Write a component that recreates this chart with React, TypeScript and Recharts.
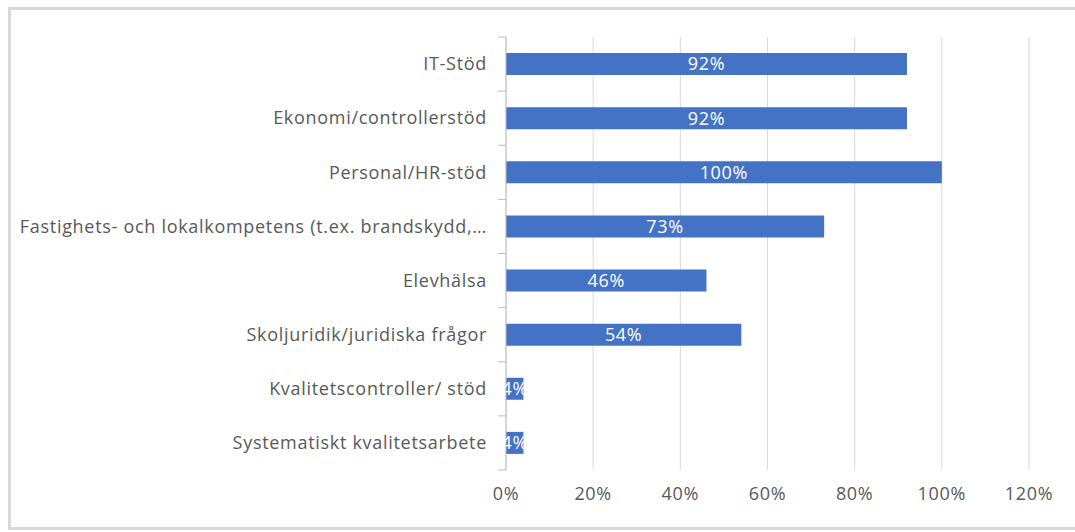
import { Bar, BarChart, CartesianGrid, LabelList, XAxis, YAxis } from 'recharts'

const CATEGORIES = [
  'IT-Stöd',
  'Ekonomi/controllerstöd',
  'Personal/HR-stöd',
  'Fastighets- och lokalkompetens (t.ex. brandskydd,…',
  'Elevhälsa',
  'Skoljuridik/juridiska frågor',
  'Kvalitetscontroller/ stöd',
  'Systematiskt kvalitetsarbete',
]
const VALUES = [92, 92, 100, 73, 46, 54, 4, 4]
const X_TICKS = [0, 20, 40, 60, 80, 100, 120]

const data = CATEGORIES.map((name, i) => ({ name, value: VALUES[i] }))

const WIDTH = 1064
const HEIGHT = 517
const MARGIN = { top: 27, right: 46, bottom: 27, left: 0 }
const Y_AXIS_WIDTH = 495
const X_AXIS_HEIGHT = 30
const LABEL_GAP = 19
const PLOT_H = HEIGHT - MARGIN.top - MARGIN.bottom - X_AXIS_HEIGHT
const BAND = PLOT_H / CATEGORIES.length

const FONT = '"Open Sans", sans-serif'
const FONT_SIZE = 18
const SPACING = 0.7
const TEXT = '#595959'

function CategoryTick(props: any) {
  const { x, y, payload, index } = props
  const ax = x + LABEL_GAP
  return (
    <g>
      <text
        x={x}
        y={y}
        dy="0.35em"
        textAnchor="end"
        fill={TEXT}
        fontSize={FONT_SIZE}
        fontFamily={FONT}
        letterSpacing={SPACING}
      >
        {payload.value}
      </text>
      <line x1={ax - 8} x2={ax} y1={y - BAND / 2} y2={y - BAND / 2} stroke="#bfbfbf" />
      {index === CATEGORIES.length - 1 && (
        <line x1={ax - 8} x2={ax} y1={y + BAND / 2} y2={y + BAND / 2} stroke="#bfbfbf" />
      )}
    </g>
  )
}

export default function App() {
  return (
    <div
      style={{
        position: 'absolute',
        left: 8,
        top: 7,
        width: WIDTH,
        height: HEIGHT,
        border: '3px solid #d9d9d9',
        borderRight: 'none',
        background: '#fff',
      }}
    >
      <BarChart width={WIDTH} height={HEIGHT} data={data} layout="vertical" margin={MARGIN}>
        <CartesianGrid horizontal={false} stroke="#d9d9d9" />
        <XAxis
          type="number"
          domain={[0, 120]}
          ticks={X_TICKS}
          tickFormatter={(v) => `${v}%`}
          axisLine={false}
          tickLine={false}
          tickMargin={11}
          height={X_AXIS_HEIGHT}
          tick={{ fill: TEXT, fontSize: FONT_SIZE, fontFamily: FONT, letterSpacing: SPACING }}
        />
        <YAxis
          type="category"
          dataKey="name"
          width={Y_AXIS_WIDTH}
          axisLine={{ stroke: '#bfbfbf' }}
          tickLine={false}
          tickSize={0}
          tickMargin={LABEL_GAP}
          interval={0}
          tick={<CategoryTick />}
        />
        <Bar dataKey="value" fill="#4472c4" barSize={22} isAnimationActive={false}>
          <LabelList
            dataKey="value"
            position="center"
            formatter={(v: any) => `${v}%`}
            fill="#ffffff"
            fontSize={FONT_SIZE}
            fontFamily={FONT}
            letterSpacing={SPACING}
          />
        </Bar>
      </BarChart>
    </div>
  )
}
